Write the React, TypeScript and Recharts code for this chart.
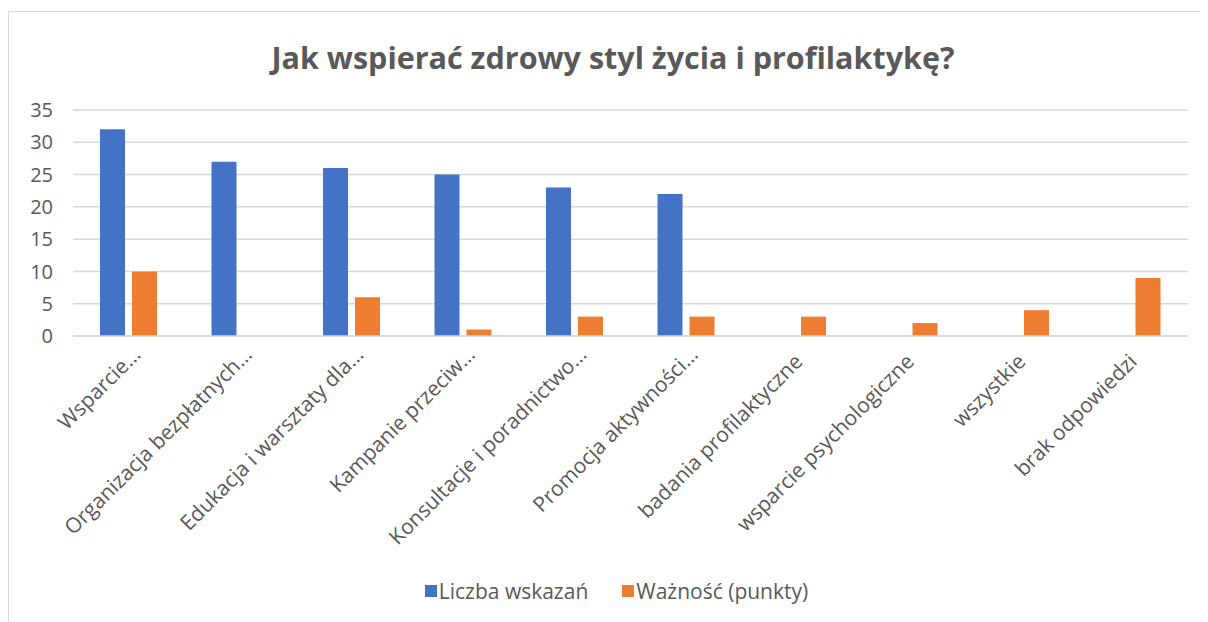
import { BarChart, Bar, XAxis, YAxis, CartesianGrid, Legend } from 'recharts';

const categories = [
  'Wsparcie…',
  'Organizacja bezpłatnych…',
  'Edukacja i warsztaty dla…',
  'Kampanie przeciw…',
  'Konsultacje i poradnictwo…',
  'Promocja aktywności…',
  'badania profilaktyczne',
  'wsparcie psychologiczne',
  'wszystkie',
  'brak odpowiedzi',
];
const liczbaWskazan = [32, 27, 26, 25, 23, 22, 0, 0, 0, 0];
const waznosc = [10, 0, 6, 1, 3, 3, 3, 2, 4, 9];
const yTicks = [0, 5, 10, 15, 20, 25, 30, 35];

const data = categories.map((name, i) => ({
  name,
  liczba: liczbaWskazan[i],
  waznosc: waznosc[i],
}));

const FONT = '"Open Sans", "Noto Sans", sans-serif';
const TEXT = '#595959';
const GRID = '#d9d9d9';

// truncated labels sit a bit further along the text direction, like Excel does
function AngledTick(props: any) {
  const { x, y, payload } = props;
  const cut = String(payload.value).endsWith('…');
  const dx = cut ? 13 : 6;
  const dy = cut ? 12 : 19;
  return (
    <g transform={`translate(${x + dx},${y + dy})`}>
      <text transform="rotate(-45)" textAnchor="end" fill={TEXT} fontSize={21} fontFamily={FONT}>
        {payload.value}
      </text>
    </g>
  );
}

function LegendContent(props: any) {
  const { payload } = props;
  return (
    <div style={{ display: 'flex', justifyContent: 'center', gap: 34, paddingLeft: 36 }}>
      {(payload || []).map((p: any) => (
        <div key={p.value} style={{ display: 'flex', alignItems: 'center', gap: 2 }}>
          <span style={{ width: 12, height: 12, background: p.color, display: 'inline-block' }} />
          <span style={{ color: TEXT, fontSize: 21, fontFamily: FONT }}>{p.value}</span>
        </div>
      ))}
    </div>
  );
}

export default function App() {
  return (
    <div
      style={{
        position: 'relative',
        marginTop: 3,
        width: 1200,
        height: 611,
        borderTop: `1px solid ${GRID}`,
        borderLeft: `1px solid ${GRID}`,
        fontFamily: FONT,
        background: '#fff',
        overflow: 'hidden',
      }}
    >
      <style>{'html, body { overflow: hidden; }'}</style>
      <div
        style={{
          position: 'absolute',
          top: 24,
          left: 0,
          width: 1172,
          paddingLeft: 18,
          textAlign: 'center',
          fontSize: 30.5,
          fontWeight: 700,
          color: TEXT,
        }}
      >
        Jak wspierać zdrowy styl życia i profilaktykę?
      </div>
      <BarChart
        width={1189}
        height={599}
        data={data}
        margin={{ top: 98, right: 10, bottom: 0, left: 0 }}
        barSize={25}
        barGap={7}
      >
        <CartesianGrid vertical={false} stroke={GRID} strokeWidth={1.5} />
        <XAxis
          dataKey="name"
          interval={0}
          tickLine={false}
          axisLine={{ stroke: GRID, strokeWidth: 1.5 }}
          tick={<AngledTick />}
          height={247}
        />
        <YAxis
          domain={[0, 35]}
          ticks={yTicks}
          width={64}
          tickLine={false}
          axisLine={false}
          tickMargin={14}
          tick={{ fill: TEXT, fontSize: 20, fontFamily: FONT }}
        />
        <Legend verticalAlign="bottom" wrapperStyle={{ bottom: 6 }} content={<LegendContent />} />
        <Bar dataKey="liczba" name="Liczba wskazań" fill="#4472C4" isAnimationActive={false} />
        <Bar dataKey="waznosc" name="Ważność (punkty)" fill="#ED7D31" isAnimationActive={false} />
      </BarChart>
    </div>
  );
}
